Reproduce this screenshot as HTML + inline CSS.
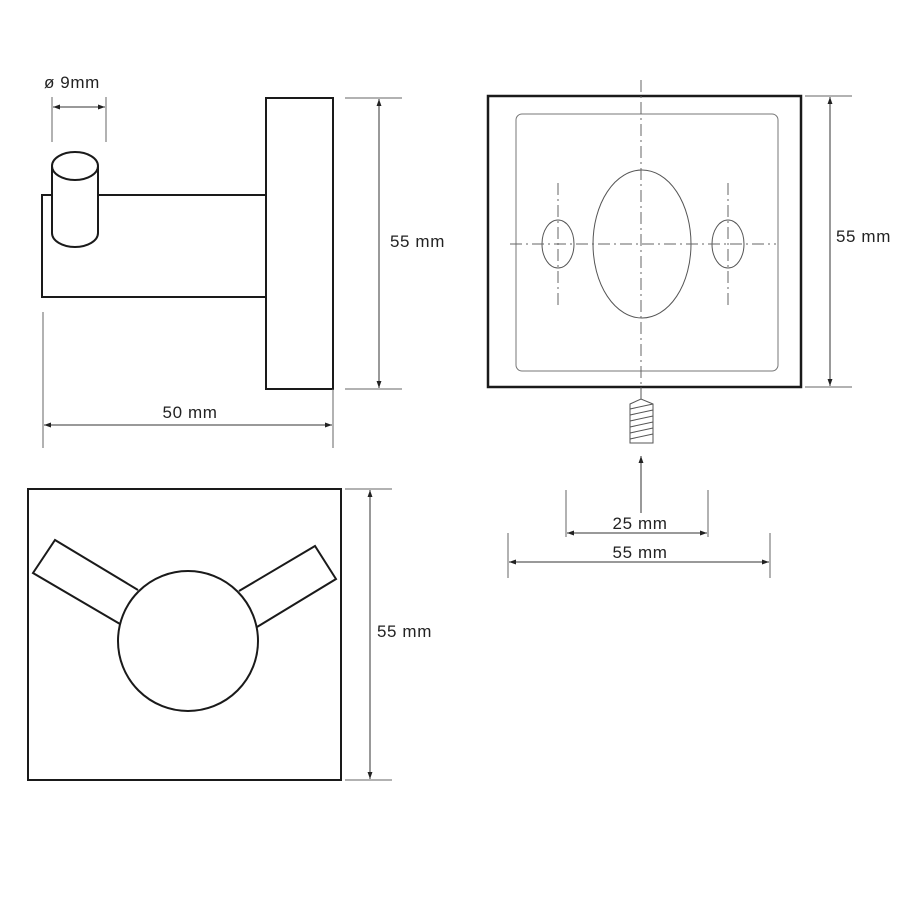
<!DOCTYPE html>
<html><head><meta charset="utf-8"><style>html,body{margin:0;padding:0;background:#fff}svg{display:block}</style></head>
<body>
<svg width="900" height="900" viewBox="0 0 900 900" xmlns="http://www.w3.org/2000/svg" font-family="Liberation Sans, sans-serif">
<defs>
<marker id="a" viewBox="0 0 10 10" refX="10" refY="5" markerWidth="7" markerHeight="7" orient="auto-start-reverse"><path d="M0,1.5 L10,5 L0,8.5z" fill="#222"/></marker>
</defs>
<g fill="none" stroke="#1a1a1a" stroke-width="2">
<rect x="266" y="98" width="67" height="291"/>
<path d="M52,195 H42 V297 H266 M98,195 H266"/>
<path d="M52,166 V233 A23,14 0 0 0 98,233 V166" fill="#fff"/>
<ellipse cx="75" cy="166" rx="23" ry="14" fill="#fff"/>
</g>
<g stroke="#666" stroke-width="1" fill="none">
<line x1="52" y1="97" x2="52" y2="142"/><line x1="106" y1="97" x2="106" y2="142"/>
<line x1="345" y1="98" x2="402" y2="98"/><line x1="345" y1="389" x2="402" y2="389"/>
<line x1="43" y1="312" x2="43" y2="448"/><line x1="333" y1="389" x2="333" y2="448"/>
</g>
<g stroke="#333" stroke-width="1">
<line x1="53" y1="107" x2="105" y2="107" marker-start="url(#a)" marker-end="url(#a)"/>
<line x1="379" y1="99" x2="379" y2="388" marker-start="url(#a)" marker-end="url(#a)"/>
<line x1="44" y1="425" x2="332" y2="425" marker-start="url(#a)" marker-end="url(#a)"/>
</g>
<g font-size="17" fill="#222" letter-spacing="0.6">
<text x="44" y="88">ø 9mm</text>
<text x="390" y="247">55 mm</text>
<text x="190" y="418" text-anchor="middle">50 mm</text>
<text x="836" y="242">55 mm</text>
<text x="640" y="529" text-anchor="middle">25 mm</text>
<text x="640" y="558" text-anchor="middle">55 mm</text>
<text x="377" y="637">55 mm</text>
</g>
<rect x="488" y="96" width="313" height="291" fill="none" stroke="#1a1a1a" stroke-width="2.5"/>
<rect x="516" y="114" width="262" height="257" rx="6" fill="none" stroke="#777" stroke-width="1"/>
<g fill="none" stroke="#555" stroke-width="1">
<ellipse cx="642" cy="244" rx="49" ry="74"/>
<ellipse cx="558" cy="244" rx="16" ry="24"/>
<ellipse cx="728" cy="244" rx="16" ry="24"/>
</g>
<g stroke="#666" stroke-width="1" stroke-dasharray="12,4,2,4">
<line x1="641" y1="80" x2="641" y2="398"/>
<line x1="510" y1="244" x2="776" y2="244"/>
<line x1="558" y1="183" x2="558" y2="308"/>
<line x1="728" y1="183" x2="728" y2="308"/>
</g>
<line x1="805" y1="96" x2="852" y2="96" stroke="#666"/><line x1="805" y1="387" x2="852" y2="387" stroke="#666"/>
<line x1="830" y1="97" x2="830" y2="386" stroke="#333" marker-start="url(#a)" marker-end="url(#a)"/>
<g stroke="#555" stroke-width="1" fill="none">
<line x1="641" y1="387" x2="641" y2="399"/>
<path d="M630,443 V404 L641,399 L653,404 V443 Z"/>
<path d="M630,409 L653,404 M630,415 L653,410 M630,421 L653,416 M630,427 L653,422 M630,433 L653,428 M630,439 L653,434"/>
</g>
<line x1="641" y1="513" x2="641" y2="456" stroke="#333" marker-end="url(#a)"/>
<g stroke="#666" stroke-width="1">
<line x1="566" y1="490" x2="566" y2="537"/><line x1="708" y1="490" x2="708" y2="537"/>
<line x1="508" y1="533" x2="508" y2="578"/><line x1="770" y1="533" x2="770" y2="578"/>
</g>
<line x1="567" y1="533" x2="707" y2="533" stroke="#333" marker-start="url(#a)" marker-end="url(#a)"/>
<line x1="509" y1="562" x2="769" y2="562" stroke="#333" marker-start="url(#a)" marker-end="url(#a)"/>
<g fill="none" stroke="#1a1a1a" stroke-width="2">
<rect x="28" y="489" width="313" height="291"/>
<path d="M138,590 L55,540 L33,573 L120,624"/>
<path d="M239,591 L315,546 L336,579 L257,627"/>
<circle cx="188" cy="641" r="70"/>
</g>
<line x1="345" y1="489" x2="392" y2="489" stroke="#666"/><line x1="345" y1="780" x2="392" y2="780" stroke="#666"/>
<line x1="370" y1="490" x2="370" y2="779" stroke="#333" marker-start="url(#a)" marker-end="url(#a)"/>
</svg>
</body></html>
